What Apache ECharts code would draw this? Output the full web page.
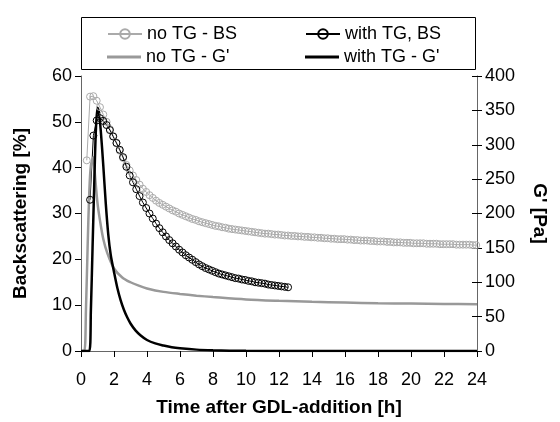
<!DOCTYPE html>
<html>
<head>
<meta charset="utf-8">
<script src="https://cdn.jsdelivr.net/npm/echarts@6/dist/echarts.min.js"></script>
<style>
  html, body { margin: 0; padding: 0; background: #fff; }
  #chart { width: 560px; height: 422px; }
</style>
</head>
<body>
<div id="chart"></div>
<script>
// backscattering, sampled every 0.2 h
const bsStep = 0.2
const noTgBsStart = 0.35
const noTgBs = [41.6, 55.5, 55.6, 54.6, 53.2, 51.6, 50.0, 48.4, 46.9, 45.3,
  43.7, 42.1, 40.6, 39.4, 38.3, 37.3, 36.3, 35.4, 34.7, 34.0,
  33.4, 32.8, 32.3, 31.9, 31.5, 31.1, 30.7, 30.4, 30.0, 29.7,
  29.4, 29.1, 28.8, 28.6, 28.3, 28.1, 27.9, 27.7, 27.5, 27.3,
  27.2, 27.0, 26.9, 26.7, 26.6, 26.5, 26.4, 26.3, 26.2, 26.1,
  26.0, 25.9, 25.8, 25.7, 25.6, 25.6, 25.5, 25.4, 25.4, 25.3,
  25.2, 25.2, 25.1, 25.1, 25.0, 25.0, 24.9, 24.9, 24.8, 24.8,
  24.7, 24.7, 24.6, 24.6, 24.5, 24.5, 24.4, 24.4, 24.4, 24.3,
  24.3, 24.2, 24.2, 24.1, 24.1, 24.1, 24.0, 24.0, 23.9, 23.9,
  23.9, 23.8, 23.8, 23.7, 23.7, 23.7, 23.6, 23.6, 23.6, 23.5,
  23.5, 23.5, 23.5, 23.4, 23.4, 23.4, 23.4, 23.3, 23.3, 23.3,
  23.3, 23.3, 23.2, 23.2, 23.2, 23.2, 23.2, 23.1, 23.1]
const withTgBsStart = 0.55
const withTgBs = [33.0, 47.0, 50.3, 50.8, 50.2, 49.3, 48.2, 46.8, 45.4, 43.9,
  42.3, 40.2, 38.3, 36.8, 35.3, 33.8, 32.4, 31.2, 30.0, 28.9,
  27.8, 26.8, 25.9, 25.0, 24.2, 23.5, 22.8, 22.1, 21.5, 20.9,
  20.4, 19.9, 19.4, 18.9, 18.5, 18.1, 17.8, 17.5, 17.2, 16.9,
  16.7, 16.5, 16.3, 16.1, 15.9, 15.8, 15.6, 15.5, 15.3, 15.2,
  15.0, 14.9, 14.8, 14.7, 14.5, 14.4, 14.3, 14.2, 14.1, 14.0, 13.9]

// G' (right axis)
const noTgGTime = [0, 0.2, 0.3, 0.4, 0.5, 0.6, 0.75, 0.85, 1.0, 1.15, 1.35, 1.6, 2.0, 2.5, 3.0, 3.5, 4, 5, 6, 7, 8, 10, 12, 14, 16, 18, 20, 22, 24]
const noTgG = [0, 0, 60, 150, 230, 270, 282, 255, 215, 190, 163, 142, 120, 107, 100, 95, 91, 86, 83, 80.5, 78.5, 75, 73, 71.5, 70.5, 69.5, 69, 68.5, 68]
const withTgGTime = [0, 0.5, 0.6, 0.7, 0.8, 0.9, 1.0, 1.1, 1.2, 1.35, 1.5, 1.65, 1.8, 2.0, 2.2, 2.4, 2.6, 2.8, 3.0, 3.3, 3.6, 4.0, 4.5, 5.0, 5.5, 6, 7, 8, 9, 10, 12, 24]
const withTgG = [0, 0, 60, 150, 240, 320, 354, 345, 320, 270, 215, 170, 140, 115, 92, 74, 60, 49, 40, 30, 23, 16, 11, 8, 5.5, 4, 2, 1, 0.5, 0.3, 0.1, 0]

const font = 'Liberation Sans, Arial, sans-serif'
const fs = 18

const sampled = (start, vals) => vals.map((v, i) => [+(start + i * bsStep).toFixed(2), v])
const paired = (t, vals) => vals.map((v, i) => [t[i], v])

let myChart = echarts.init(document.getElementById('chart'))

const legendItem = (item, left, top, h) => ({
  data: [item],
  left: left,
  top: top,
  padding: 0,
  itemWidth: 34,
  itemHeight: h,
  textStyle: { fontFamily: font, fontSize: fs, color: '#000' }
})

const titleStyle = { fontFamily: font, fontSize: 19, fontWeight: 'bold', color: '#000' }
const labelStyle = { fontFamily: font, fontSize: fs, color: '#000' }

let option = {
  animation: false,
  grid: { left: 81, right: 83, top: 76, bottom: 70 },
  graphic: [{
    type: 'rect',
    shape: { x: 81.5, y: 17.5, width: 394, height: 52 },
    style: { fill: 'none', stroke: '#000', lineWidth: 1 }
  }],
  legend: [
    legendItem('no TG - BS', 107, 25, 12),
    legendItem('with TG, BS', 305, 25, 12),
    legendItem({ name: "no TG - G'", icon: 'rect' }, 107, 48, 3),
    legendItem({ name: "with TG - G'", icon: 'rect' }, 305, 48, 3)
  ],
  xAxis: {
    type: 'value',
    min: 0,
    max: 24,
    interval: 2,
    name: 'Time after GDL-addition [h]',
    nameLocation: 'middle',
    nameGap: 47,
    nameTextStyle: titleStyle,
    splitLine: { show: false },
    axisLine: { lineStyle: { color: '#666', width: 1 } },
    axisTick: { length: 6, lineStyle: { color: '#000' } },
    axisLabel: Object.assign({ margin: 20 }, labelStyle)
  },
  yAxis: [{
    type: 'value',
    min: 0,
    max: 60,
    interval: 10,
    name: 'Backscattering [%]',
    nameLocation: 'middle',
    nameGap: 51,
    nameTextStyle: titleStyle,
    splitLine: { show: false },
    axisLine: { show: true, lineStyle: { color: '#666', width: 1 } },
    axisTick: { show: true, length: 6, lineStyle: { color: '#000' } },
    axisLabel: Object.assign({ margin: 9 }, labelStyle)
  }, {
    type: 'value',
    position: 'right',
    min: 0,
    max: 400,
    interval: 50,
    name: "G' [Pa]",
    nameLocation: 'middle',
    nameGap: 53,
    nameRotate: -90,
    nameTextStyle: titleStyle,
    splitLine: { show: false },
    axisLine: { show: true, lineStyle: { color: '#666', width: 1 } },
    axisTick: { show: true, length: 5, lineStyle: { color: '#000' } },
    axisLabel: Object.assign({ margin: 8 }, labelStyle)
  }, {
    // inner half of the crossing ticks on the right axis
    type: 'value',
    position: 'right',
    min: 0,
    max: 400,
    interval: 50,
    splitLine: { show: false },
    axisLine: { show: false },
    axisTick: { show: true, inside: true, length: 5, lineStyle: { color: '#000' } },
    axisLabel: { show: false }
  }],
  series: [{
    name: 'no TG - BS',
    type: 'line',
    yAxisIndex: 0,
    data: sampled(noTgBsStart, noTgBs),
    symbol: 'circle',
    symbolSize: 7,
    lineStyle: { color: '#aaa', width: 1 },
    itemStyle: { color: 'rgba(255,255,255,0)', borderColor: '#aaa', borderWidth: 1 }
  }, {
    name: 'with TG, BS',
    type: 'line',
    yAxisIndex: 0,
    data: sampled(withTgBsStart, withTgBs),
    symbol: 'circle',
    symbolSize: 7,
    lineStyle: { color: '#000', width: 1 },
    itemStyle: { color: 'rgba(255,255,255,0)', borderColor: '#000', borderWidth: 1 }
  }, {
    name: "no TG - G'",
    type: 'line',
    yAxisIndex: 1,
    data: paired(noTgGTime, noTgG),
    symbol: 'none',
    smooth: 0.3,
    lineStyle: { color: '#999', width: 2.5 },
    itemStyle: { color: '#999' }
  }, {
    name: "with TG - G'",
    type: 'line',
    yAxisIndex: 1,
    data: paired(withTgGTime, withTgG),
    symbol: 'none',
    smooth: 0.3,
    lineStyle: { color: '#000', width: 2.5 },
    itemStyle: { color: '#000' }
  }]
}

myChart.setOption(option)
</script>
</body>
</html>
